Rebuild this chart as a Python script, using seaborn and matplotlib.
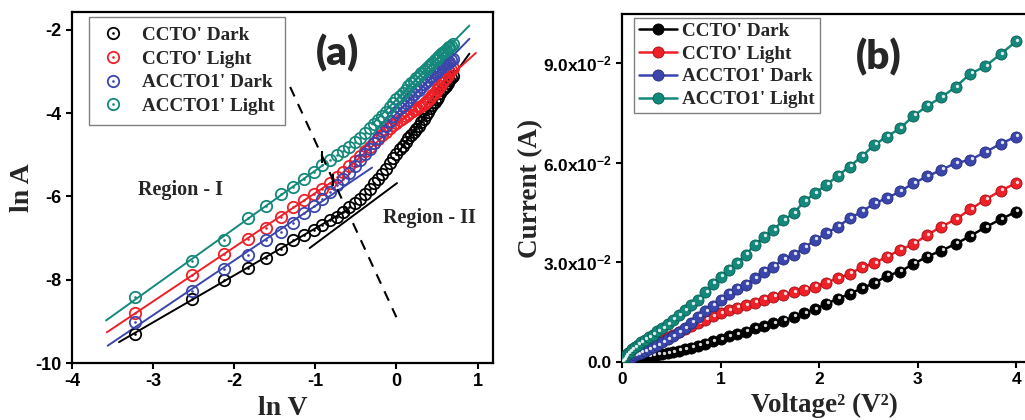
import numpy as np
import pandas as pd
import matplotlib
matplotlib.use("Agg")
import matplotlib.pyplot as plt
import matplotlib.transforms as mtransforms
from matplotlib.lines import Line2D
from matplotlib.legend_handler import HandlerTuple
import seaborn as sns

# ---------------- data ----------------
voltage = [0.04, 0.08, 0.12, 0.16, 0.20, 0.24, 0.28, 0.32, 0.36, 0.40,
           0.44, 0.48, 0.52, 0.56, 0.60, 0.64, 0.68, 0.72, 0.76, 0.80,
           0.84, 0.88, 0.92, 0.96, 1.00, 1.04, 1.08, 1.12, 1.16, 1.20,
           1.24, 1.28, 1.32, 1.36, 1.40, 1.44, 1.48, 1.52, 1.56, 1.60,
           1.64, 1.68, 1.72, 1.76, 1.80, 1.84, 1.88, 1.92, 1.96, 2.00]

series_names = ["CCTO' Dark", "CCTO' Light", "ACCTO1' Dark", "ACCTO1' Light"]

current_ccto_dark = [9.2e-5, 2.1e-4, 3.3e-4, 4.5e-4, 5.7e-4, 7.1e-4, 8.8e-4, 9.8e-4, 1.12e-3, 1.24e-3,
                     1.40e-3, 1.52e-3, 1.70e-3, 1.91e-3, 2.13e-3, 2.36e-3, 2.66e-3, 3.0e-3, 3.4e-3, 3.8e-3,
                     4.3e-3, 4.85e-3, 5.5e-3, 6.2e-3, 6.9e-3, 7.7e-3, 8.3e-3, 9.1e-3, 1.01e-2, 1.08e-2,
                     1.17e-2, 1.24e-2, 1.36e-2, 1.47e-2, 1.59e-2, 1.75e-2, 1.90e-2, 2.05e-2, 2.22e-2, 2.37e-2,
                     2.59e-2, 2.72e-2, 2.95e-2, 3.17e-2, 3.35e-2, 3.55e-2, 3.79e-2, 4.05e-2, 4.29e-2, 4.52e-2]

current_ccto_light = [1.52e-4, 3.74e-4, 6.2e-4, 9.0e-4, 1.17e-3, 1.52e-3, 1.91e-3, 2.27e-3, 2.66e-3, 3.0e-3,
                      3.45e-3, 3.97e-3, 4.5e-3, 5.1e-3, 5.8e-3, 6.6e-3, 7.4e-3, 8.2e-3, 9.0e-3, 9.9e-3,
                      1.08e-2, 1.17e-2, 1.27e-2, 1.37e-2, 1.46e-2, 1.55e-2, 1.63e-2, 1.71e-2, 1.79e-2, 1.87e-2,
                      1.96e-2, 2.02e-2, 2.10e-2, 2.17e-2, 2.27e-2, 2.39e-2, 2.52e-2, 2.65e-2, 2.85e-2, 2.97e-2,
                      3.17e-2, 3.37e-2, 3.55e-2, 3.82e-2, 4.07e-2, 4.29e-2, 4.59e-2, 4.88e-2, 5.15e-2, 5.38e-2]

current_accto1_dark = [1.22e-4, 2.56e-4, 4.3e-4, 6.05e-4, 8.7e-4, 1.06e-3, 1.32e-3, 1.65e-3, 1.97e-3, 2.36e-3,
                       2.77e-3, 3.25e-3, 3.8e-3, 4.4e-3, 5.1e-3, 5.9e-3, 6.8e-3, 7.8e-3, 8.9e-3, 1.02e-2,
                       1.18e-2, 1.36e-2, 1.53e-2, 1.70e-2, 1.87e-2, 2.05e-2, 2.20e-2, 2.32e-2, 2.52e-2, 2.72e-2,
                       2.87e-2, 3.09e-2, 3.22e-2, 3.44e-2, 3.67e-2, 3.87e-2, 4.07e-2, 4.32e-2, 4.52e-2, 4.77e-2,
                       4.93e-2, 5.13e-2, 5.38e-2, 5.58e-2, 5.78e-2, 5.98e-2, 6.08e-2, 6.31e-2, 6.56e-2, 6.78e-2]

current_accto1_light = [2.22e-4, 5.3e-4, 8.8e-4, 1.46e-3, 1.97e-3, 2.66e-3, 3.12e-3, 3.81e-3, 4.47e-3, 5.25e-3,
                        6.0e-3, 6.7e-3, 7.4e-3, 8.2e-3, 9.2e-3, 1.02e-2, 1.14e-2, 1.27e-2, 1.40e-2, 1.55e-2,
                        1.72e-2, 1.87e-2, 2.10e-2, 2.35e-2, 2.57e-2, 2.77e-2, 2.97e-2, 3.22e-2, 3.52e-2, 3.77e-2,
                        3.97e-2, 4.27e-2, 4.47e-2, 4.83e-2, 5.08e-2, 5.33e-2, 5.60e-2, 5.88e-2, 6.18e-2, 6.53e-2,
                        6.78e-2, 7.03e-2, 7.40e-2, 7.70e-2, 7.96e-2, 8.27e-2, 8.67e-2, 8.89e-2, 9.26e-2, 9.64e-2]

currents = [current_ccto_dark, current_ccto_light, current_accto1_dark, current_accto1_light]

# region limits used for the linear fits (in V)
region1_vmax = 0.44
region2_vmin = 0.80
# extent (ln V) over which each fitted line is drawn
fit1_extent = [(-3.42, -0.60), (-3.57, -0.77), (-3.56, -0.30), (-3.58, -0.90)]
fit2_extent = [(0.00, 0.90), (-0.55, 0.98), (-0.45, 0.90), (-0.30, 0.90)]

# annotation guides in panel (a) (ln V, ln A)
divider_line = ([-1.31, 0.0], [-3.37, -8.9])
tangent_line = ([-1.07, 0.007], [-7.24, -5.68])
divider_marks = ([-0.92, -0.78], [-5.05, -5.61])

xticks_a = [-4, -3, -2, -1, 0, 1]
yticks_a = [-10, -8, -6, -4, -2]
xticks_b = [0, 1, 2, 3, 4]
yticks_b = [0.0, 0.03, 0.06, 0.09]
yticklabels_b = ["0.0", "3.0x10$^{-2}$", "6.0x10$^{-2}$", "9.0x10$^{-2}$"]

colors = ["#000000", "#ee2028", "#3a46ab", "#14897b"]
edge_dark = ["#000000", "#a01015", "#252e78", "#0b5d53"]

# ---------------- style ----------------
sns.set_style("ticks")
plt.rcParams["font.family"] = ["Liberation Sans", "DejaVu Sans"]
plt.rcParams["font.weight"] = "bold"
plt.rcParams["axes.unicode_minus"] = False
plt.rcParams["mathtext.fontset"] = "custom"
plt.rcParams["mathtext.rm"] = "Liberation Sans:bold"
plt.rcParams["mathtext.it"] = "Liberation Sans:bold"
plt.rcParams["mathtext.bf"] = "Liberation Sans:bold"
plt.rcParams["mathtext.default"] = "rm"

SERIF = ["Liberation Serif", "DejaVu Serif"]
PANEL_FONT = ["Lato", "Open Sans", "DejaVu Sans"]

fig = plt.figure(figsize=(10.25, 4.2), dpi=100)
ax_a = fig.add_axes([0.0702, 0.1357, 0.4107, 0.8357])
ax_b = fig.add_axes([0.6068, 0.1380, 0.3951, 0.8290])

V = np.array(voltage)
lnV = np.log(V)

# ---------------- panel (a) ----------------
for i, (name, cur) in enumerate(zip(series_names, currents)):
    lnA = np.log(np.array(cur))
    c = colors[i]
    m1 = V <= region1_vmax
    p1 = np.polyfit(lnV[m1], lnA[m1], 1)
    xs1 = np.array(fit1_extent[i])
    sns.lineplot(x=xs1, y=np.polyval(p1, xs1), ax=ax_a, color=c, lw=1.4, sort=False,
                 legend=False, zorder=2)
    m2 = V >= region2_vmin
    p2 = np.polyfit(lnV[m2], lnA[m2], 1)
    xs2 = np.array(fit2_extent[i])
    sns.lineplot(x=xs2, y=np.polyval(p2, xs2), ax=ax_a, color=c, lw=1.4, sort=False,
                 legend=False, zorder=2)
    sns.lineplot(x=lnV, y=lnA, ax=ax_a, color=c, linestyle="", marker="o", sort=False,
                 markersize=8.2, markerfacecolor="none", markeredgecolor=c, markeredgewidth=1.3,
                 legend=False, zorder=3)
    sns.lineplot(x=lnV, y=lnA, ax=ax_a, color=c, linestyle="", marker="o", sort=False,
                 markersize=1.9, markerfacecolor=c, markeredgecolor=c, markeredgewidth=0,
                 legend=False, zorder=3)

sns.lineplot(x=divider_line[0], y=divider_line[1], ax=ax_a, color="black", lw=1.5,
             linestyle=(0, (5, 4)), sort=False, legend=False, zorder=4)
sns.lineplot(x=tangent_line[0], y=tangent_line[1], ax=ax_a, color="black", lw=1.4,
             sort=False, legend=False, zorder=4)
sns.lineplot(x=divider_marks[0], y=divider_marks[1], ax=ax_a, color="black", linestyle="",
             marker="|", markersize=8, markeredgewidth=1.5, markeredgecolor="black",
             sort=False, legend=False, zorder=5)

ax_a.set_xlim(-4, 1.19)
ax_a.set_ylim(-10, -1.57)
ax_a.set_xticks(xticks_a)
ax_a.set_yticks(yticks_a)
ax_a.set_xlabel("ln V", family=SERIF, fontsize=20, fontweight="bold", labelpad=4)
ax_a.set_ylabel("ln A", family=SERIF, fontsize=20, fontweight="bold", labelpad=0)

ax_a.text(0.257, 0.493, "Region - I", transform=ax_a.transAxes, family=SERIF,
          fontsize=14.5, fontweight="bold", ha="center", va="center")
ax_a.text(0.850, 0.413, "Region - II", transform=ax_a.transAxes, family=SERIF,
          fontsize=14.5, fontweight="bold", ha="center", va="center")
ax_a.text(0.63, 0.883, "(a)", transform=ax_a.transAxes, family=PANEL_FONT,
          fontsize=29, fontweight="heavy", ha="center", va="center")

handles_a = []
for c in colors:
    h1 = Line2D([], [], linestyle="", marker="o", markersize=8.2, markerfacecolor="none",
                markeredgecolor=c, markeredgewidth=1.3)
    h2 = Line2D([], [], linestyle="", marker="o", markersize=1.9, markerfacecolor=c,
                markeredgecolor=c, markeredgewidth=0)
    handles_a.append((h1, h2))
leg_a = ax_a.legend(handles_a, series_names, handler_map={tuple: HandlerTuple(ndivide=1)},
                    loc="upper left", bbox_to_anchor=(0.040, 0.986), borderaxespad=0,
                    frameon=True, fancybox=False, framealpha=1, edgecolor="#808080",
                    handlelength=1.5, handletextpad=0.8, labelspacing=0.33, borderpad=0.5,
                    prop={"family": SERIF, "weight": "bold", "size": 13.8})
leg_a.get_frame().set_linewidth(1.0)

# ---------------- panel (b) ----------------
V2 = V ** 2
hl_transform = mtransforms.offset_copy(ax_b.transData, fig=fig, x=1.3, y=1.5, units="dots")
for i, (name, cur) in enumerate(zip(series_names, currents)):
    I = np.array(cur)
    c = colors[i]
    sns.lineplot(x=V2, y=I, ax=ax_b, color=c, lw=1.8, marker="o", markersize=8.0, sort=False,
                 markerfacecolor=c, markeredgecolor=edge_dark[i], markeredgewidth=0.6,
                 legend=False, zorder=3 + i)
    sns.lineplot(x=V2, y=I, ax=ax_b, color="white", linestyle="", marker="o", markersize=2.4,
                 markerfacecolor="white", markeredgewidth=0, alpha=0.85, sort=False,
                 legend=False, zorder=3 + i, transform=hl_transform)

ax_b.set_xlim(0, 4.11)
ax_b.set_ylim(0, 0.1047)
ax_b.set_xticks(xticks_b)
ax_b.set_yticks(yticks_b)
ax_b.set_yticklabels(yticklabels_b)
ax_b.set_xlabel("Voltage² (V²)", family=SERIF, fontsize=19.5, fontweight="bold", labelpad=4)
ax_b.set_ylabel("Current (A)", family=SERIF, fontsize=19.5, fontweight="bold", labelpad=0)
ax_b.text(0.635, 0.876, "(b)", transform=ax_b.transAxes, family=PANEL_FONT,
          fontsize=29, fontweight="heavy", ha="center", va="center")

handles_b = [Line2D([], [], color=c, lw=1.8, marker="o", markersize=8.0, markerfacecolor=c,
                    markeredgecolor=edge_dark[i], markeredgewidth=0.6)
             for i, c in enumerate(colors)]
leg_b = ax_b.legend(handles_b, series_names, loc="upper left", bbox_to_anchor=(0.030, 0.989),
                    borderaxespad=0, frameon=True, fancybox=False, framealpha=1,
                    edgecolor="#808080", handlelength=2.0, handletextpad=0.25,
                    labelspacing=0.28, borderpad=0.25,
                    prop={"family": SERIF, "weight": "bold", "size": 13.8})
leg_b.get_frame().set_linewidth(1.0)

for ax, lsize in ((ax_a, 13), (ax_b, 12.5)):
    for s in ax.spines.values():
        s.set_linewidth(1.6)
        s.set_color("black")
    ax.tick_params(axis="both", direction="out", length=4.5, width=1.5, labelsize=lsize,
                   pad=3, top=False, right=False, colors="black")
    for lab in ax.get_xticklabels() + ax.get_yticklabels():
        lab.set_fontweight("bold")

fig.savefig("out.png", dpi=100)
